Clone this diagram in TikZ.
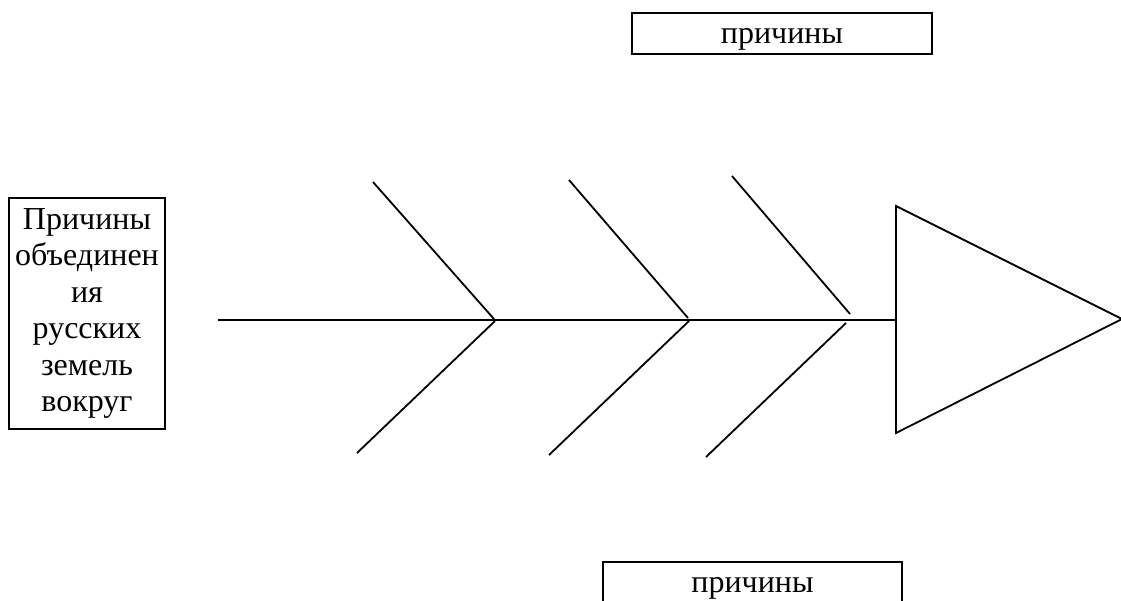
\documentclass[tikz,border=0pt]{standalone}
\usepackage{fontspec}
\setmainfont{Liberation Serif}
\begin{document}
\begin{tikzpicture}[x=1pt,y=-1pt,
  ln/.style={line width=1.8pt},
  txt/.style={font=\fontsize{32}{36.4}\selectfont},
  boxed/.style={draw,line width=1.8pt,inner sep=0pt}]
\useasboundingbox (0,0) rectangle (1121,600);
\clip (0,0) rectangle (1121,600);
\fill[white] (0,0) rectangle (1121,600);
% boxes
\node[boxed,txt,minimum width=156pt,minimum height=231pt,align=center] (head) at (87,313.5)
  {Причины\\объединен\\ия\\русских\\земель\\вокруг};
\node[boxed,minimum width=300pt,minimum height=41pt] (top) at (782,33.5) {};
\node[txt,anchor=base] (toplbl) at (782,43) {причины};
\node[boxed,minimum width=299pt,minimum height=46pt,anchor=north] (bot) at (752.5,561) {};
\node[txt,anchor=base] (botlbl) at (752.5,592) {причины};
% spine
\coordinate (s0) at (218,320);
\coordinate (s1) at (896,320);
\draw[ln] (s0) -- (s1);
% triangle
\coordinate (ta) at (896,206);
\coordinate (tb) at (896,433);
\coordinate (tc) at (1122,319);
\draw[ln,line join=miter] (ta) -- (tc) -- (tb) -- cycle;
% upper bones
\coordinate (u1a) at (373,182); \coordinate (u1b) at (494,319);
\coordinate (u2a) at (569,180); \coordinate (u2b) at (688,318);
\coordinate (u3a) at (732,176); \coordinate (u3b) at (850,314);
\draw[ln] (u1a) -- (u1b);
\draw[ln] (u2a) -- (u2b);
\draw[ln] (u3a) -- (u3b);
% lower bones
\coordinate (l1a) at (495,321); \coordinate (l1b) at (357,453);
\coordinate (l2a) at (689,321); \coordinate (l2b) at (549,455);
\coordinate (l3a) at (846,323); \coordinate (l3b) at (706,457);
\draw[ln] (l1a) -- (l1b);
\draw[ln] (l2a) -- (l2b);
\draw[ln] (l3a) -- (l3b);
\end{tikzpicture}
\end{document}
